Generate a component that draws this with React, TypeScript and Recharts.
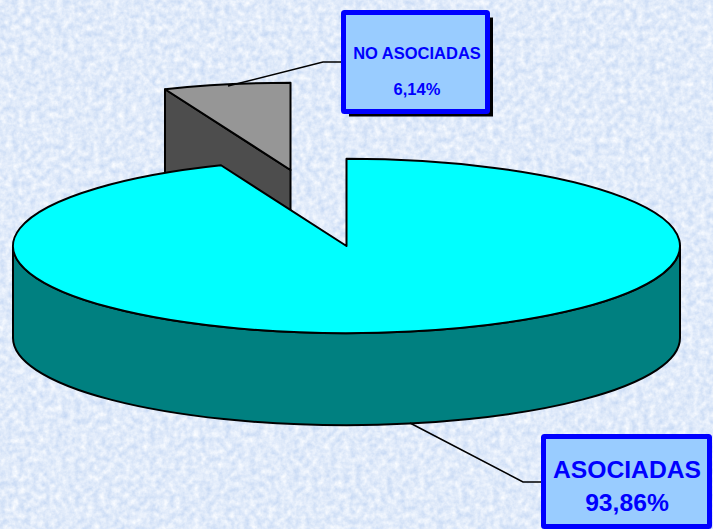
import { PieChart, Pie } from "recharts";

const categories = ["NO ASOCIADAS", "ASOCIADAS"];
const shares = [6.14, 93.86];

const topColors = ["#969696", "#00ffff"];
const wallColors = ["#4d4d4d", "#008080"];
const explode = [
  { dx: -56, dy: -76 },
  { dx: 0, dy: 0 },
];

// callout boxes, same order as categories
const callouts = [
  {
    x: 343.5, y: 12.5, w: 144, h: 99, fontSize: 16.5,
    shadow: true,
    textX: 417, lineA: 59, lineB: 95,
    leader: "228,86 323,62 341,62",
  },
  {
    x: 543.5, y: 436.5, w: 166, h: 90, fontSize: 24.7,
    shadow: false,
    textX: 627, lineA: 478, lineB: 511,
    leader: "410,423 523,482 541,482",
  },
];

const data = categories.map((name, i) => ({ name, value: shares[i] }));

const WIDTH = 713;
const HEIGHT = 529;
const TILT = 0.2613;
const DEPTH = 92;
const RAD = Math.PI / 180;

function Slice3D(props: any) {
  const { cx, cy, outerRadius, startAngle, endAngle, payload } = props;
  const i = categories.indexOf(payload.name);
  const ox = cx + explode[i].dx;
  const oy = cy + explode[i].dy;
  const rx = outerRadius;
  const ry = outerRadius * TILT;
  const pt = (a: number, drop = 0) =>
    `${ox + rx * Math.cos(a * RAD)},${oy - ry * Math.sin(a * RAD) + drop}`;
  const large = Math.abs(startAngle - endAngle) > 180 ? 1 : 0;

  const walls: string[] = [];
  // round rim, only the front half faces the viewer
  const from = Math.min(startAngle, 0);
  const to = Math.max(endAngle, -180);
  if (from > to) {
    walls.push(
      `M${pt(from)} A${rx},${ry} 0 0 1 ${pt(to)} L${pt(to, DEPTH)} A${rx},${ry} 0 0 0 ${pt(from, DEPTH)} Z`
    );
  }
  // flat cut face
  if (Math.cos(startAngle * RAD) < -0.001) {
    walls.push(
      `M${ox},${oy} L${pt(startAngle)} L${pt(startAngle, DEPTH)} L${ox},${oy + DEPTH} Z`
    );
  }

  return (
    <g>
      {walls.map((d) => (
        <path key={d} d={d} fill={wallColors[i]} stroke="#000" strokeWidth={2} strokeLinejoin="round" />
      ))}
      <path
        d={`M${ox},${oy} L${pt(startAngle)} A${rx},${ry} 0 ${large} 1 ${pt(endAngle)} Z`}
        fill={topColors[i]}
        stroke="#000"
        strokeWidth={2}
        strokeLinejoin="round"
      />
    </g>
  );
}

function Callout(props: any) {
  const i = categories.indexOf(props.payload.name);
  const c = callouts[i];
  const textProps = {
    x: c.textX,
    textAnchor: "middle" as const,
    fontFamily: "Liberation Sans, Arial, sans-serif",
    fontWeight: 700,
    fontSize: c.fontSize,
    fill: "#0000ff",
  };
  return (
    <g>
      <polyline points={c.leader} fill="none" stroke="#000" strokeWidth={1.5} />
      {c.shadow && <rect x={c.x + 5.5} y={c.y + 5} width={c.w} height={c.h} fill="#000" />}
      <rect x={c.x} y={c.y} width={c.w} height={c.h} rx={1} fill="#99ccff" stroke="#0000ff" strokeWidth={5} strokeLinejoin="round" />
      <text {...textProps} y={c.lineA}>{props.payload.name}</text>
      <text {...textProps} y={c.lineB}>{shares[i].toFixed(2).replace(".", ",")}%</text>
    </g>
  );
}

export default function App() {
  // first slice starts past 12 o'clock so the big one begins exactly at the top
  const startAngle = 90 + (shares[0] / 100) * 360;
  return (
    <div style={{ position: "relative", width: WIDTH, height: HEIGHT, overflow: "hidden" }}>
      <style>{"body{margin:0}"}</style>
      <svg width={WIDTH} height={HEIGHT} style={{ position: "absolute", left: 0, top: 0 }}>
        <filter id="paper" x="0" y="0" width="100%" height="100%" colorInterpolationFilters="sRGB">
          <feTurbulence type="fractalNoise" baseFrequency="0.16" numOctaves={3} seed={4} />
          <feColorMatrix values="0.26 0 0 0 0.75  0.18 0 0 0 0.83  0.06 0 0 0 0.95  0 0 0 0 1" />
        </filter>
        <rect width={WIDTH} height={HEIGHT} filter="url(#paper)" />
      </svg>
      <div style={{ position: "absolute", left: 0, top: 0 }}>
        <PieChart width={WIDTH} height={HEIGHT} margin={{ top: 0, right: 0, bottom: 0, left: 0 }}>
          <Pie
            data={data}
            dataKey="value"
            nameKey="name"
            cx={346.5}
            cy={246}
            outerRadius={333.5}
            startAngle={startAngle}
            endAngle={startAngle - 360}
            shape={Slice3D}
            label={Callout}
            labelLine={false}
            isAnimationActive={false}
          />
        </PieChart>
      </div>
    </div>
  );
}
